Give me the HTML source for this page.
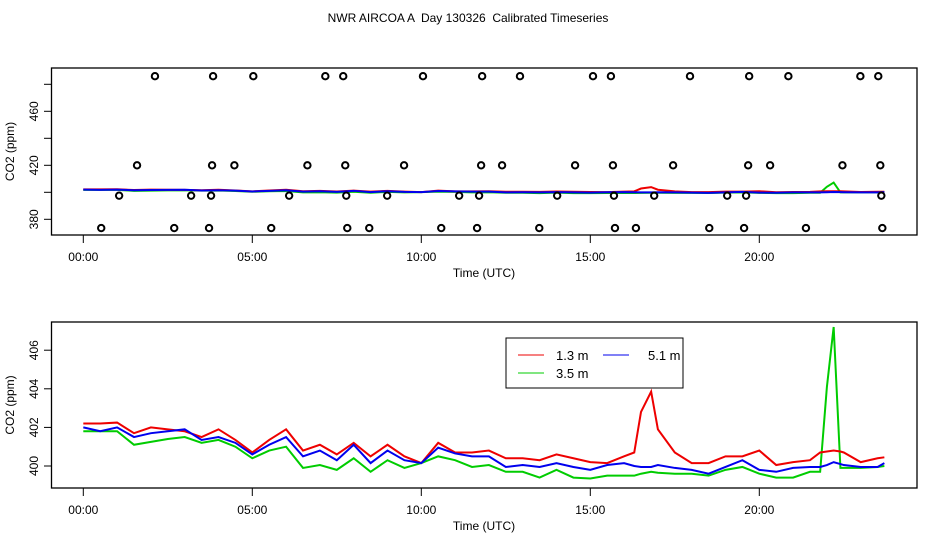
<!DOCTYPE html>
<html><head><meta charset="utf-8"><style>
body{margin:0;background:#fff}
svg{display:block;font-family:"Liberation Sans",sans-serif}
</style></head><body>
<svg id="c" width="936" height="540">
<text x="468" y="22" text-anchor="middle" font-size="12" style="white-space:pre">NWR AIRCOA A  Day 130326  Calibrated Timeseries</text>
</svg>
<script>
const times=[0,0.5,1,1.5,2,2.5,3,3.5,4,4.5,5,5.5,6,6.5,7,7.5,8,8.5,9,9.5,10,10.5,11,11.5,12,12.5,13,13.5,14,14.5,15,15.5,16,16.3,16.5,16.8,17,17.5,18,18.5,19,19.5,20,20.5,21,21.5,21.8,22,22.2,22.4,22.5,23,23.5,23.7];
const red=[402.2,402.2,402.25,401.7,402.0,401.9,401.8,401.5,401.9,401.35,400.7,401.35,401.9,400.8,401.1,400.6,401.2,400.5,401.1,400.5,400.15,401.2,400.7,400.7,400.8,400.4,400.4,400.3,400.6,400.4,400.2,400.15,400.5,400.7,402.8,403.85,401.9,400.7,400.15,400.15,400.5,400.5,400.8,400.05,400.2,400.3,400.7,400.75,400.8,400.75,400.7,400.2,400.4,400.45];
const green=[401.8,401.8,401.8,401.1,401.25,401.4,401.5,401.2,401.35,401.0,400.4,400.8,401.0,399.9,400.05,399.8,400.4,399.7,400.3,399.9,400.15,400.5,400.3,399.95,400.05,399.7,399.7,399.4,399.8,399.4,399.35,399.5,399.5,399.5,399.6,399.7,399.65,399.6,399.6,399.5,399.8,399.95,399.6,399.4,399.4,399.7,399.7,404.1,407.2,399.9,399.9,399.9,399.95,400.0];
const blue=[402.0,401.8,402.0,401.5,401.7,401.8,401.9,401.35,401.5,401.2,400.6,401.1,401.5,400.5,400.8,400.3,401.1,400.15,400.8,400.3,400.15,400.95,400.65,400.5,400.5,399.95,400.05,399.95,400.15,399.95,399.8,400.05,400.15,400.0,399.95,399.95,400.05,399.9,399.8,399.6,399.95,400.3,399.8,399.7,399.9,399.95,399.95,400.05,400.2,400.1,400.05,399.95,399.95,400.15];
const ptTimes=[2.12,3.84,5.03,7.16,7.69,10.05,11.8,12.92,15.08,15.61,17.95,19.7,20.86,22.99,23.52,1.59,3.81,4.47,6.63,7.75,9.49,11.77,12.39,14.55,15.67,17.45,19.67,20.32,22.46,23.58,1.06,3.19,3.78,6.09,7.78,8.99,11.12,11.71,14.02,15.7,16.89,19.05,19.61,23.61,0.53,2.69,3.72,5.56,7.81,8.46,10.59,11.65,13.49,15.73,16.35,18.52,19.55,21.38,23.64];
const ptVals=[486,486,486,486,486,486,486,486,486,486,486,486,486,486,486,420,420,420,420,420,420,420,420,420,420,420,420,420,420,420,397.5,397.5,397.5,397.5,397.5,397.5,397.5,397.5,397.5,397.5,397.5,397.5,397.5,397.5,373.5,373.5,373.5,373.5,373.5,373.5,373.5,373.5,373.5,373.5,373.5,373.5,373.5,373.5,373.5];
const xTicks=[0,5,10,15,20];
const xLabels=["00:00","05:00","10:00","15:00","20:00"];
const topTicks=[380,400,420,440,460,480];
const topLabels=["380","","420","","460",""];
const botTicks=[400,402,404,406];
const botLabels=["400","402","404","406"];

const svg=document.getElementById('c');
const NS='http://www.w3.org/2000/svg';
function mk(tag,attrs,parent){const e=document.createElementNS(NS,tag);for(const k in attrs)e.setAttribute(k,attrs[k]);(parent||svg).appendChild(e);return e;}
const X=t=>83.3+t*33.8;
function panel(top,bottom,yScale,ticks,labels,name){
  const g=mk('g',{});
  
  
  const f=mk('rect',{x:51.5,y:top,width:865.5,height:bottom-top,fill:'none',stroke:'#000','stroke-width':1.3},g);
  
  
  const xa=mk('g',{},g);
  
  
  xTicks.forEach((t,i)=>{
    mk('line',{x1:X(t),x2:X(t),y1:bottom,y2:bottom+8,stroke:'#000'},xa);
    const tx=mk('text',{x:X(t),y:bottom+26,'text-anchor':'middle','font-size':12},xa);tx.textContent=xLabels[i];
    
    
  });
  const xt=mk('text',{x:484,y:bottom+42,'text-anchor':'middle','font-size':12},g);xt.textContent='Time (UTC)';
  
  
  const ya=mk('g',{},g);
  
  
  ticks.forEach((v,i)=>{
    const y=yScale(v);
    mk('line',{x1:44,x2:51.5,y1:y,y2:y,stroke:'#000'},ya);
    if(labels[i]){const tx=mk('text',{x:0,y:0,'text-anchor':'middle','font-size':12,transform:`translate(38,${y}) rotate(-90)`},ya);tx.textContent=labels[i];
    
    }
  });
  const yt=mk('text',{x:0,y:0,'text-anchor':'middle','font-size':12,transform:`translate(14,${(top+bottom)/2}) rotate(-90)`},g);yt.textContent='CO2 (ppm)';
  
  
  [[green,'#00cc00','series-3-5m'],[red,'#ee0000','series-1-3m'],[blue,'#0000ee','series-5-1m']].forEach(([d,c,n])=>{
    const p=mk('polyline',{points:times.map((t,i)=>X(t)+','+yScale(d[i])).join(' '),fill:'none',stroke:c,'stroke-width':2},g);
    
    
  });
  return g;
}
const yTop=v=>219.3-(v-380)*1.35;
const gt=panel(68,235,yTop,topTicks,topLabels,'top-panel');
ptTimes.forEach((t,i)=>{
  const c=mk('circle',{cx:X(t),cy:yTop(ptVals[i]),r:3.2,fill:'none',stroke:'#000','stroke-width':2},gt);
  
  
});
const yBot=v=>466-(v-400)*19.3;
panel(322,488,yBot,botTicks,botLabels,'bottom-panel');
const lg=mk('g',{});


mk('rect',{x:506,y:338,width:177,height:50,fill:'#fff',stroke:'#000','stroke-width':1},lg);
[['1.3 m','#ee0000',518,355,548],['5.1 m','#0000ee',603,355,640],['3.5 m','#00cc00',518,373,548]].forEach(([l,c,x,y,tx])=>{
  const e=mk('g',{},lg);
  
  
  mk('line',{x1:x,x2:x+26,y1:y,y2:y,stroke:c,'stroke-width':1},e);
  const t=mk('text',{x:tx+8,y:y+5,'font-size':13},e);t.textContent=l;
});
</script>
</body></html>
